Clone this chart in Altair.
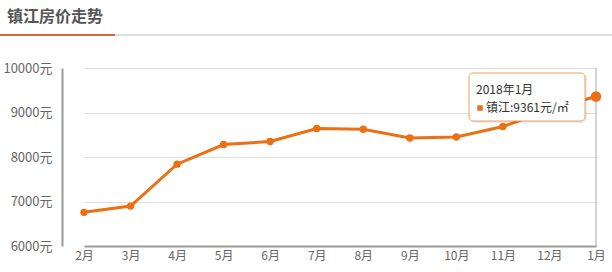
import altair as alt
import pandas as pd

months = ["2月", "3月", "4月", "5月", "6月", "7月", "8月", "9月", "10月", "11月", "12月", "1月"]
prices = [6756, 6897, 7839, 8280, 8347, 8639, 8623, 8428, 8451, 8684, 9050, 9361]
y_ticks = [6000, 7000, 8000, 9000, 10000]
title_text = "镇江房价走势"
city = "镇江"
tip_period = "2018年1月"

FONT = "Noto Sans CJK SC"
ORANGE = "#ec6f12"

df = pd.DataFrame({"month": months, "price": prices})
last = df.tail(1).copy()
last["tip1"] = tip_period
last["tip2"] = city + ":" + last["price"].astype(str) + "元/㎡"

x_scale = alt.Scale(type="point", range=[22, 534], padding=0, domain=months)
x_enc = alt.X("month:N", sort=months, scale=x_scale,
              axis=alt.Axis(title=None, labelAngle=0, labelFont=FONT, labelFontSize=12,
                            labelColor="#666", labelPadding=4, ticks=False,
                            domainColor="#999", domainWidth=2, grid=False))
x_plain = alt.X("month:N", sort=months, scale=x_scale)
y_enc = alt.Y("price:Q", scale=alt.Scale(domain=[6000, 10000], nice=False, zero=False),
              axis=alt.Axis(title=None, values=y_ticks, labelExpr="datum.value + '元'",
                            labelFont=FONT, labelFontSize=13, labelColor="#666",
                            labelPadding=10, ticks=False, domainColor="#999", domainWidth=2,
                            gridColor="#dddddd", gridWidth=1))

base = alt.Chart(df)

cross = alt.Chart(last).mark_rule(color="#aaa", strokeWidth=1).encode(
    x=x_plain, y=alt.value(0), y2=alt.value(178))

line = base.mark_line(color=ORANGE, strokeWidth=3).encode(x=x_enc, y=y_enc)
pts = base.mark_circle(color=ORANGE, opacity=1, size=55).encode(x=x_plain, y="price:Q")
big = alt.Chart(last).mark_circle(color=ORANGE, opacity=1, size=110).encode(x=x_plain, y="price:Q")

# header underline
hdr_gray = alt.Chart(last).mark_rule(color="#dddddd", strokeWidth=2).encode(
    x=alt.value(-62), x2=alt.value(550), y=alt.value(-33))
hdr_org = alt.Chart(last).mark_rule(color="#e0603a", strokeWidth=2).encode(
    x=alt.value(-62), x2=alt.value(53), y=alt.value(-33))
hdr_text = alt.Chart(last).mark_text(align="left", baseline="middle", font=FONT,
                                     fontSize=16, fontWeight="bold", color="#555").encode(
    x=alt.value(-55), y=alt.value(-51), text=alt.value(title_text))

# tooltip box with a soft shadow
tip_shadow = alt.Chart(last).mark_rect(fill="#000", opacity=0.08, cornerRadius=5).encode(
    x=alt.value(408), x2=alt.value(525), y=alt.value(6), y2=alt.value(55))
tip_box = alt.Chart(last).mark_rect(fill="white", stroke="#f0a060", strokeWidth=1,
                                     cornerRadius=4, opacity=1).encode(
    x=alt.value(407), x2=alt.value(523), y=alt.value(5), y2=alt.value(53))
tip_l1 = alt.Chart(last).mark_text(align="left", baseline="middle", font=FONT,
                                   fontSize=12, color="#333").encode(
    x=alt.value(414), y=alt.value(22), text="tip1:N")
tip_sq = alt.Chart(last).mark_square(color=ORANGE, opacity=1, size=30).encode(
    x=alt.value(418), y=alt.value(40))
tip_l2 = alt.Chart(last).mark_text(align="left", baseline="middle", font=FONT,
                                   fontSize=12, color="#333").encode(
    x=alt.value(424), y=alt.value(40), text="tip2:N")

chart = alt.layer(line, cross, pts, big, hdr_gray, hdr_org, hdr_text,
                  tip_shadow, tip_box, tip_l1, tip_sq, tip_l2).properties(
    width=550, height=178,
    autosize=alt.AutoSizeParams(type="none"),
    padding={"left": 62, "top": 68, "right": 0, "bottom": 26},
    background="white",
).configure_view(stroke=None)

chart.save("out.html", embed_options={"renderer": "svg", "actions": False})
